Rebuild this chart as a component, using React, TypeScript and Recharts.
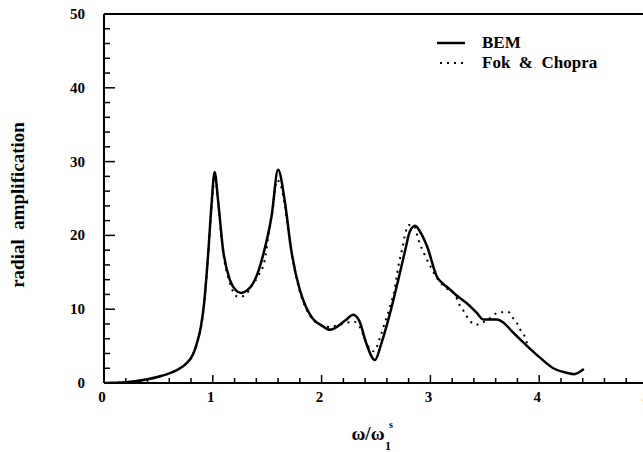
import React from 'react';
import { LineChart, Line, XAxis, YAxis, ReferenceLine } from 'recharts';

// BEM (solid) curve: omega/omega1 vs radial amplification
const bemX = [0, 0.2, 0.4, 0.5, 0.6, 0.67, 0.72, 0.76, 0.8, 0.83, 0.86, 0.89, 0.92, 0.956, 0.987, 1.017, 1.048, 1.094, 1.156, 1.21, 1.263, 1.32, 1.37, 1.42, 1.46, 1.54, 1.6, 1.66, 1.72, 1.8, 1.86, 1.92, 2.01, 2.077, 2.14, 2.22, 2.29, 2.35, 2.41, 2.49, 2.55, 2.63, 2.705, 2.77, 2.81, 2.86, 2.905, 2.97, 3.06, 3.12, 3.17, 3.23, 3.335, 3.42, 3.49, 3.55, 3.61, 3.67, 3.75, 3.89, 4.01, 4.13, 4.26, 4.32, 4.41];
const bemY = [0, 0.1, 0.5, 0.85, 1.3, 1.75, 2.2, 2.7, 3.4, 4.3, 5.7, 7.6, 10.8, 17.2, 23.9, 28.6, 24.8, 18.1, 14.0, 12.6, 12.2, 12.6, 13.5, 15.2, 17.2, 22.6, 28.9, 24.8, 18.1, 12.6, 10.2, 8.7, 7.7, 7.2, 7.6, 8.5, 9.25, 8.3, 5.4, 3.1, 5.4, 9.5, 14.0, 18.1, 20.5, 21.3, 20.5, 18.5, 14.4, 13.4, 12.8, 12.0, 10.8, 9.6, 8.6, 8.6, 8.6, 8.2, 7.0, 5.0, 3.4, 2.0, 1.35, 1.2, 1.9];

// Fok & Chopra (dotted) curve
const fokX = [0, 0.2, 0.4, 0.5, 0.6, 0.67, 0.72, 0.76, 0.8, 0.83, 0.86, 0.89, 0.92, 0.956, 0.99, 1.02, 1.05, 1.094, 1.156, 1.23, 1.29, 1.35, 1.42, 1.478, 1.51, 1.55, 1.59, 1.63, 1.66, 1.72, 1.8, 1.86, 1.92, 2.0, 2.077, 2.14, 2.245, 2.3, 2.35, 2.4, 2.44, 2.48, 2.54, 2.58, 2.63, 2.67, 2.705, 2.74, 2.77, 2.8, 2.85, 2.89, 2.94, 3.0, 3.07, 3.15, 3.23, 3.26, 3.3, 3.335, 3.37, 3.42, 3.48, 3.54, 3.6, 3.66, 3.72, 3.76, 3.8, 3.83, 3.87, 3.89, 3.93];
const fokY = [0, 0.1, 0.5, 0.85, 1.3, 1.75, 2.2, 2.7, 3.4, 4.3, 5.7, 7.5, 10.6, 17.0, 24.0, 28.0, 24.3, 17.8, 13.6, 11.7, 11.8, 13.0, 14.6, 16.7, 19.9, 23.5, 27.5, 26.5, 24.3, 17.9, 12.4, 10.0, 8.6, 7.8, 7.6, 7.8, 8.2, 8.3, 7.6, 5.9, 4.7, 4.3, 6.3, 8.1, 10.4, 12.6, 15.8, 18.1, 20.3, 21.4, 21.3, 19.4, 17.6, 15.8, 14.0, 12.8, 11.9, 10.8, 9.9, 9.0, 8.3, 7.9, 8.2, 8.7, 9.4, 9.6, 9.6, 8.8, 8.0, 7.1, 6.2, 5.3, 4.3];

const xTicks = [0, 0.2, 0.4, 0.6, 0.8, 1, 1.2, 1.4, 1.6, 1.8, 2, 2.2, 2.4, 2.6, 2.8, 3, 3.2, 3.4, 3.6, 3.8, 4, 4.2, 4.4, 4.6, 4.8, 5];
const yTicks = [0, 2, 4, 6, 8, 10, 12, 14, 16, 18, 20, 22, 24, 26, 28, 30, 32, 34, 36, 38, 40, 42, 44, 46, 48, 50];

const seriesNames = ['BEM', 'Fok & Chopra'];
const yTitle = 'radial  amplification';

const bemData = bemX.map((x, i) => ({ x, y: bemY[i] }));
const fokData = fokX.map((x, i) => ({ x, y: fokY[i] }));

const FONT = '"Liberation Serif", "DejaVu Serif", serif';

const isMajor = (v: number) => Math.abs(v - Math.round(v)) < 1e-6;

const XTick = (props: any) => {
  const { x, y, payload } = props;
  const v = payload.value;
  const major = isMajor(v);
  return (
    <g>
      <line x1={x} x2={x} y1={y} y2={y - (major ? 8 : 5)} stroke="#000" strokeWidth={1.5} />
      {major && (
        <text x={x - 2} y={y + 14} textAnchor="middle" dominantBaseline="central" fontFamily={FONT} fontWeight="bold" fontSize={15} fill="#000">
          {Math.round(v)}
        </text>
      )}
    </g>
  );
};

const YTick = (props: any) => {
  const { x, y, payload } = props;
  const v = payload.value;
  const major = v % 10 === 0;
  return (
    <g>
      <line x1={x} x2={x + (major ? 11 : 6)} y1={y} y2={y} stroke="#000" strokeWidth={1.5} />
      {major && (
        <text x={x - 19} y={y} textAnchor="end" dominantBaseline="central" fontFamily={FONT} fontWeight="bold" fontSize={15} fill="#000">
          {v}
        </text>
      )}
    </g>
  );
};

const XTitle = () => (
  <g fontFamily={FONT} fontWeight="bold" fill="#000">
    <text x={368} y={440} textAnchor="middle" fontSize={19}>ω/ω</text>
    <text x={389} y={428} textAnchor="start" fontSize={10}>s</text>
    <text x={385} y={450} textAnchor="start" fontSize={12}>1</text>
  </g>
);

const YTitle = () => (
  <text
    x={0}
    y={0}
    transform="translate(24, 205) rotate(-90)"
    textAnchor="middle"
    fontFamily={FONT}
    fontWeight="bold"
    fontSize={19}
    fill="#000"
    style={{ whiteSpace: 'pre' }}
  >
    {yTitle}
  </text>
);

export default function App() {
  return (
    <div style={{ position: 'fixed', left: 0, top: 0, width: 643, height: 452, overflow: 'hidden', background: '#fff' }}>
      <LineChart width={680} height={452} margin={{ top: 14, right: 32, bottom: 0, left: 0 }}>
        <XAxis
          type="number"
          dataKey="x"
          domain={[0, 5]}
          ticks={xTicks}
          interval={0}
          allowDataOverflow
          height={69}
          tickSize={0}
          tickMargin={0}
          tickLine={false}
          tick={<XTick />}
          axisLine={{ stroke: '#000', strokeWidth: 2 }}
          label={<XTitle />}
        />
        <YAxis
          type="number"
          dataKey="y"
          domain={[0, 50]}
          ticks={yTicks}
          interval={0}
          allowDataOverflow
          width={104}
          tickSize={0}
          tickMargin={0}
          tickLine={false}
          tick={<YTick />}
          axisLine={{ stroke: '#000', strokeWidth: 2 }}
          label={<YTitle />}
        />
        <ReferenceLine y={50} stroke="#000" strokeWidth={2} />
        <ReferenceLine x={5} stroke="#000" strokeWidth={2} />
        <Line data={fokData} dataKey="y" type="monotone" stroke="#000" strokeWidth={2} strokeDasharray="2 5" dot={false} isAnimationActive={false} name={seriesNames[1]} />
        <Line data={bemData} dataKey="y" type="monotone" stroke="#000" strokeWidth={2.5} dot={false} isAnimationActive={false} name={seriesNames[0]} />
      </LineChart>
      <svg width={643} height={452} style={{ position: 'absolute', left: 0, top: 0, pointerEvents: 'none' }}>
        <line x1={437} x2={465} y1={43} y2={43} stroke="#000" strokeWidth={2.5} />
        <text x={482} y={48} fontFamily={FONT} fontWeight="bold" fontSize={17} fill="#000">{seriesNames[0]}</text>
        <line x1={440} x2={464} y1={63} y2={63} stroke="#000" strokeWidth={2} strokeDasharray="2 5" />
        <text x={482} y={68} fontFamily={FONT} fontWeight="bold" fontSize={17} fill="#000" style={{ whiteSpace: 'pre' }}>{'Fok  &  Chopra'}</text>
      </svg>
    </div>
  );
}
